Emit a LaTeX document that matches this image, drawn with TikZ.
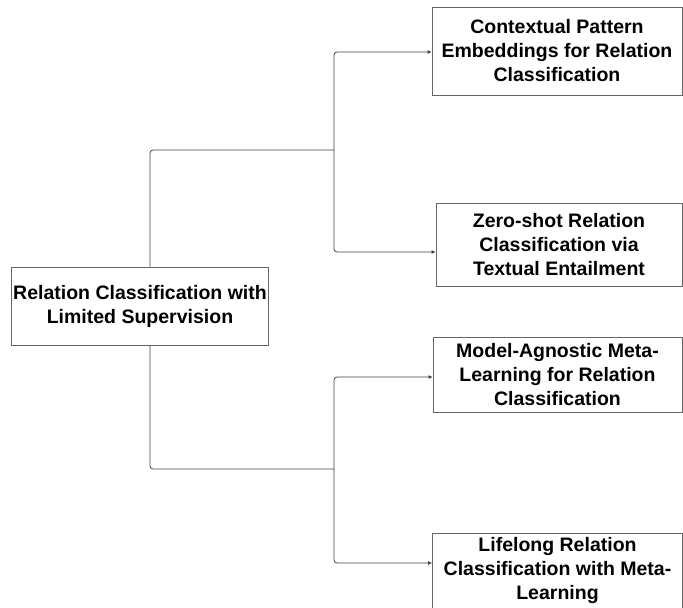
\documentclass[tikz,border=0pt]{standalone}
\usepackage{fontspec}
\setmainfont{Liberation Sans}
\usepackage{xcolor}
\usepackage{tikz}
\usetikzlibrary{arrows.meta,positioning}

\begin{document}
\begin{tikzpicture}[
  x=1pt, y=-1pt,
  box/.style={draw=black!60, line width=0.8pt, align=center, inner sep=2pt,
    font=\fontsize{19.5}{24}\selectfont\bfseries},
  link/.style={draw=black!75, line width=0.8pt, rounded corners=3pt},
  >={Latex[length=4pt,width=4pt]}
]
  \useasboundingbox (0,0) rectangle (683,608);
  \node[box, minimum width=256pt, minimum height=78pt] (root) at (140,306) {Relation Classification with\\Limited Supervision};
  \node[box, minimum width=250pt, minimum height=88pt] (cpe) at (557,51) {Contextual Pattern\\Embeddings for Relation\\Classification};
  \node[box, minimum width=246pt, minimum height=83pt] (zsr) at (559,244.5) {Zero-shot Relation\\Classification via\\Textual Entailment};
  \node[box, minimum width=249pt, minimum height=75pt] (mam) at (557.5,374.5) {Model-Agnostic Meta-\\Learning for Relation\\Classification};
  \node[box, minimum width=250pt, anchor=north, text height=64pt, text depth=12pt] (llr) at (557.5,533) {Lifelong Relation\\Classification with Meta-\\Learning};
  % branch points
  \coordinate (upper) at (334,150);
  \coordinate (lower) at (334,469);
  \draw[link] ([xshift=10pt]root.north) |- (upper);
  \draw[link] ([xshift=10pt]root.south) |- (lower);
  \draw[link, ->] (upper) |- ([yshift=-1pt]cpe.west);
  \draw[link, ->] (upper) |- ([yshift=-7.5pt]zsr.west);
  \draw[link, ->] (lower) |- ([yshift=-2.5pt]mam.west);
  \draw[link, ->] (lower) |- (llr.west |- 0,563);
\end{tikzpicture}
\end{document}
